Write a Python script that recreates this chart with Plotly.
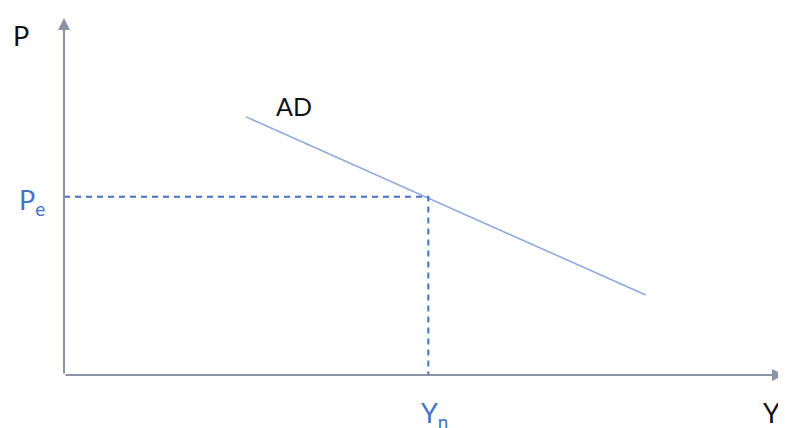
import plotly.graph_objects as go

# Economic model values (arbitrary units, 0-100 scales)
ad_y = [25.3, 80.8]      # output along AD curve
ad_p = [72.3, 22.4]      # price level along AD curve
eq_y = 50.6              # Yn
eq_p = 49.9              # Pe
x_max = 100
y_max = 100

axis_col = "#8a94a6"
blue = "#4472c4"
ad_col = "#8eaadb"
font = "Lato"

fig = go.Figure()
fig.add_trace(go.Scatter(x=ad_y, y=ad_p, mode="lines",
                         line=dict(color=ad_col, width=1.6), hoverinfo="skip"))
fig.add_trace(go.Scatter(x=[0, eq_y, eq_y], y=[eq_p, eq_p, 0], mode="lines",
                         line=dict(color=blue, width=2, dash="6px,5px"), hoverinfo="skip"))

txt = dict(showarrow=False, xanchor="center", yanchor="middle")
anns = [
    # axes with arrows
    dict(x=x_max, y=0, ax=0, ay=0, axref="x", ayref="y", xref="x", yref="y",
         showarrow=True, arrowhead=2, arrowsize=1.2, arrowwidth=2, arrowcolor=axis_col, text=""),
    dict(x=0, y=y_max, ax=0, ay=0, axref="x", ayref="y", xref="x", yref="y",
         showarrow=True, arrowhead=2, arrowsize=1.2, arrowwidth=2, arrowcolor=axis_col, text=""),
    # labels (paper coordinates so they can sit outside the plot area)
    dict(x=-0.06, y=0.95, xref="paper", yref="paper", text="P",
         font=dict(size=27, color="#111111", family=font), **txt),
    dict(x=0.982, y=-0.105, xref="paper", yref="paper", text="Y",
         font=dict(size=27, color="#111111", family=font), **txt),
    dict(x=31.9, y=75.3, text="AD", font=dict(size=25, color="#111111", family=font), **txt),
    dict(x=-0.044, y=eq_p / y_max - 0.012, xref="paper", yref="paper", text="P<sub>e</sub>",
         font=dict(size=27, color=blue, family=font), **txt),
    dict(x=eq_y / x_max + 0.008, y=-0.11, xref="paper", yref="paper", text="Y<sub>n</sub>",
         font=dict(size=27, color=blue, family=font), **txt),
]

# the page body has an 8px default margin, so the figure is sized to fit the window
fig.update_layout(
    width=778, height=420,
    margin=dict(l=56, r=2, t=10, b=53, autoexpand=False),
    paper_bgcolor="white", plot_bgcolor="white",
    showlegend=False,
    xaxis=dict(range=[0, x_max], visible=False, fixedrange=True),
    yaxis=dict(range=[0, y_max], visible=False, fixedrange=True),
    annotations=anns,
)
fig.write_html("out.html")
